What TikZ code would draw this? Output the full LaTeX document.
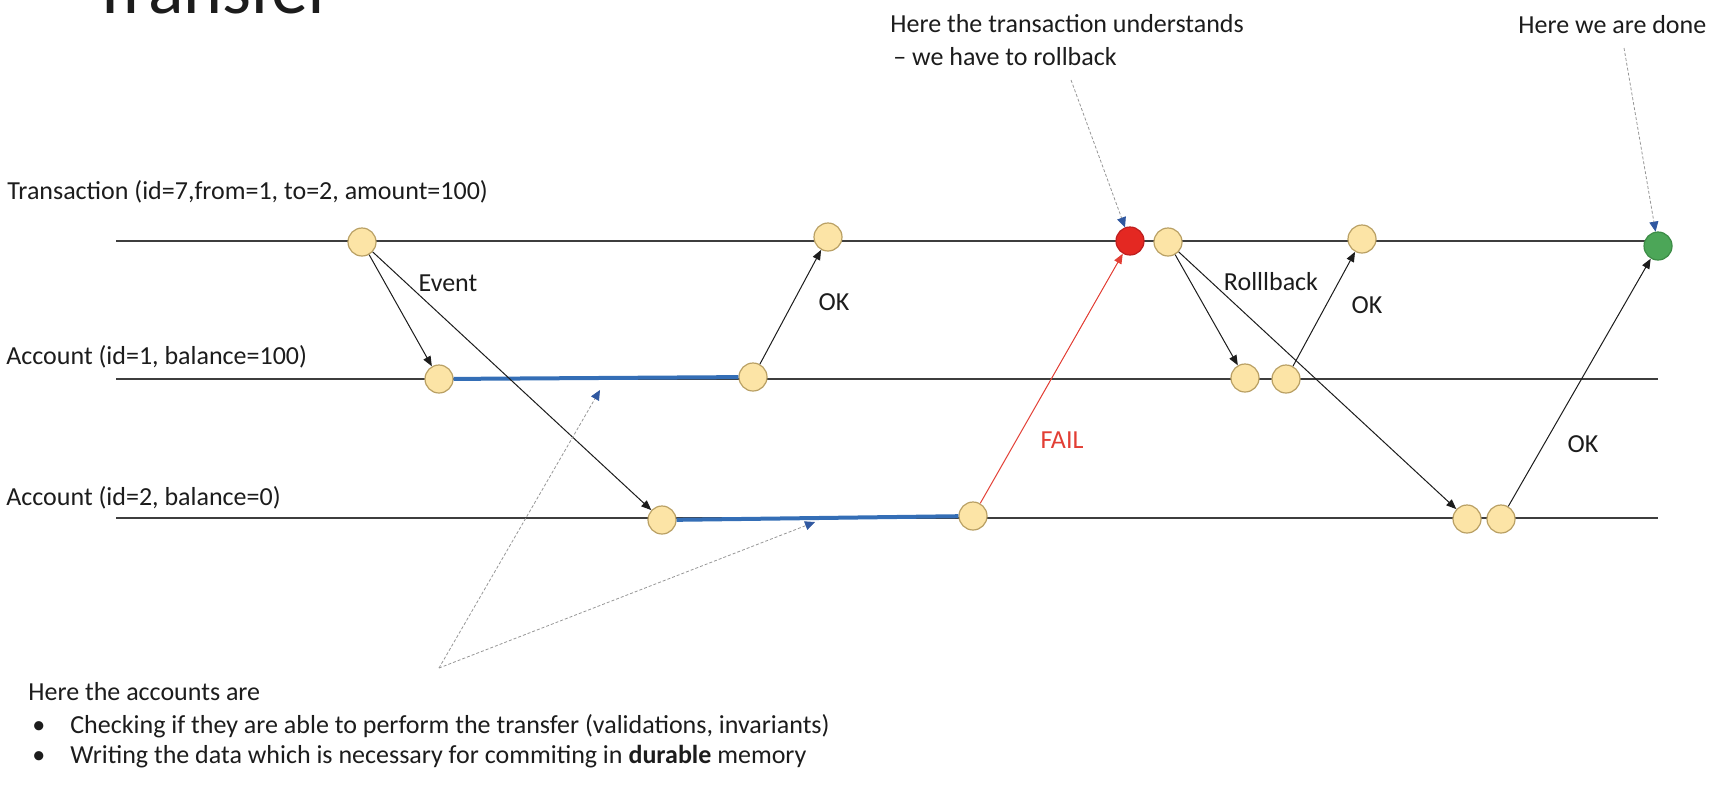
\documentclass[tikz,border=0pt]{standalone}
\usepackage{fontspec}
\setmainfont{Carlito}
\usepackage{xcolor}
\usepackage{tikz}
\usetikzlibrary{arrows.meta, positioning}

\definecolor{inkblack}{RGB}{28,28,28}
\definecolor{evtfill}{RGB}{252,228,166}
\definecolor{evtline}{RGB}{185,160,100}
\definecolor{failfill}{RGB}{228,40,34}
\definecolor{failline}{RGB}{190,30,30}
\definecolor{donefill}{RGB}{76,166,88}
\definecolor{doneline}{RGB}{60,140,70}
\definecolor{failred}{RGB}{226,62,52}
\definecolor{busyblue}{RGB}{52,110,182}
\definecolor{noteblue}{RGB}{48,88,160}
\definecolor{notegray}{RGB}{150,150,150}

\begin{document}
\begin{tikzpicture}[
        x=0.5pt, y=-0.5pt,
        txt/.style={inner sep=0pt, text=inkblack, font=\fontsize{13}{15.8}\selectfont},
        title/.style={inner sep=0pt, text=inkblack, font=\fontsize{37}{40}\selectfont},
        evt/.style={circle, draw=evtline, fill=evtfill, line width=0.6pt, minimum size=14pt, inner sep=0pt},
        failevt/.style={evt, draw=failline, fill=failfill},
        doneevt/.style={evt, draw=doneline, fill=donefill},
        lane/.style={draw=inkblack!85, line width=1pt},
        busy/.style={draw=busyblue, line width=2pt},
        arrow/.style={-{Triangle[length=5pt, width=4pt]}, draw=inkblack, line width=0.5pt},
        failarrow/.style={arrow, draw=failred},
        note/.style={-{Triangle[length=5pt, width=4.5pt, color=noteblue]}, draw=notegray, line width=0.4pt, dash pattern=on 1.5pt off 1pt}
    ]
        \clip (0,0) rectangle (1732,784);
        \node[title, anchor=base west] (ttl) at (92,13) {Transfer};

        % lanes
        \coordinate (tx0) at (116,241);
        \coordinate (tx1) at (1658,241);
        \coordinate (ac10) at (116,379);
        \coordinate (ac11) at (1658,379);
        \coordinate (ac20) at (116,518);
        \coordinate (ac21) at (1658,518);
        \draw[lane] (tx0) -- (tx1);
        \draw[lane] (ac10) -- (ac11);
        \draw[lane] (ac20) -- (ac21);

        \node[txt, anchor=base west] (trx) at (7,199) {Transaction (id=7,from=1, to=2, amount=100)};
        \node[txt, anchor=base west] (acc1) at (6,364) {Account (id=1, balance=100)};
        \node[txt, anchor=base west] (acc2) at (6,505) {Account (id=2, balance=0)};

        % events
        \node[evt] (t1) at (362,242) {};
        \node[evt] (t2) at (828,237) {};
        \node[failevt] (tfail) at (1130,241) {};
        \node[evt] (t3) at (1168,242) {};
        \node[evt] (t4) at (1362,239) {};
        \node[doneevt] (tdone) at (1658,246) {};
        \node[evt] (a1s) at (439,379) {};
        \node[evt] (a1e) at (753,377) {};
        \node[evt] (a1r) at (1245,378) {};
        \node[evt] (a1k) at (1286,379) {};
        \node[evt] (a2s) at (662,520) {};
        \node[evt] (a2e) at (973,516) {};
        \node[evt] (a2r) at (1467,519) {};
        \node[evt] (a2k) at (1501,519) {};

        \draw[busy] (a1s) -- (a1e);
        \draw[busy] (a2s) -- (a2e);

        \draw[arrow] (t1) -- (a1s);
        \draw[arrow] (t1) -- (a2s);
        \draw[arrow] (a1e) -- (t2);
        \draw[failarrow] (a2e) -- (tfail);
        \draw[arrow] (t3) -- (a1r);
        \draw[arrow] (t3) -- (a2r);
        \draw[arrow] (a1k) -- (t4);
        \draw[arrow] (a2k) -- (tdone);

        \node[txt] (ev) at (448,283) {Event};
        \node[txt] (ok1) at (834,302) {OK};
        \node[txt, text=failred] (fl) at (1062,440) {FAIL};
        \node[txt] (rb) at (1271,282) {Rolllback};
        \node[txt] (ok2) at (1367,305) {OK};
        \node[txt] (ok3) at (1583,444) {OK};

        % notes
        \node[txt, anchor=base west] (why) at (890,32) {Here the transaction understands};
        \node[txt, anchor=base west] (why2) at (893,65) {– we have to rollback};
        \node[txt, anchor=base west] (fin) at (1518,33) {Here we are done};
        \coordinate (whyp) at (1071,80);
        \coordinate (finp) at (1624,48);
        \draw[note] (whyp) -- (tfail);
        \draw[note] (finp) -- (tdone);

        \coordinate (apex) at (439,668);
        \coordinate (busy1) at (600,390);
        \coordinate (busy2) at (815,522);
        \draw[note] (apex) -- (busy1);
        \draw[note] (apex) -- (busy2);

        \node[txt, anchor=base west] (acchd) at (28,700) {Here the accounts are};
        \node[txt, anchor=base west] (accb1) at (28,733) {\makebox[21pt][l]{\hspace{2pt}\textbullet}Checking if they are able to perform the transfer (validations, invariants)};
        \node[txt, anchor=base west] (accb2) at (28,763) {\makebox[21pt][l]{\hspace{2pt}\textbullet}Writing the data which is necessary for commiting in \textbf{durable} memory};
    \end{tikzpicture}
\end{document}
